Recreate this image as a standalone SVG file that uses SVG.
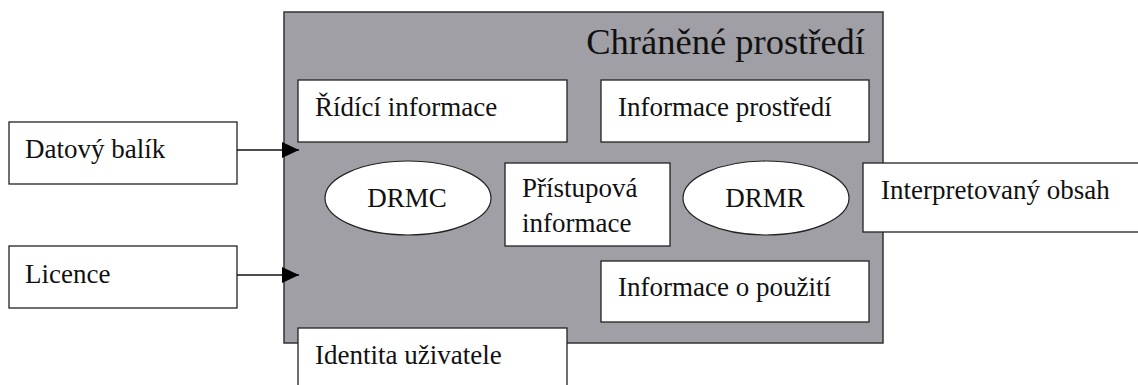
<svg xmlns="http://www.w3.org/2000/svg" width="1138" height="385" viewBox="0 0 1138 385">
  <defs>
    <marker id="arrow" markerWidth="17" markerHeight="16" refX="17" refY="8" orient="auto" markerUnits="userSpaceOnUse">
      <path d="M0,0 L17,8 L0,16 Z" fill="#000"/>
    </marker>
    <style>
      .box { fill: #fff; stroke: #222; stroke-width: 1.3; }
      .env { fill: #a09fa5; stroke: #333; stroke-width: 1.5; }
      .oval { fill: #fff; stroke: #222; stroke-width: 1.2; }
      .lbl { font-family: "Liberation Serif", "Times New Roman", "DejaVu Serif", serif; font-size: 27px; fill: #111; }
      .title { font-family: "Liberation Serif", "Times New Roman", "DejaVu Serif", serif; font-size: 36.5px; fill: #111; }
      .edge { stroke: #111; stroke-width: 1.3; fill: none; }
    </style>
  </defs>
  <rect width="1138" height="385" fill="#fff"/>

  <!-- protected environment container -->
  <g id="chranene-prostredi">
    <rect class="env" x="284" y="12" width="599" height="331"/>
    <text class="title" x="865" y="54" text-anchor="end">Chráněné prostředí</text>
  </g>

  <g id="ridici-informace">
    <rect class="box" x="298" y="80" width="269" height="62"/>
    <text class="lbl" x="315" y="116">Řídící informace</text>
  </g>

  <g id="informace-prostredi">
    <rect class="box" x="601" y="80" width="268" height="62"/>
    <text class="lbl" x="618" y="116">Informace prostředí</text>
  </g>

  <g id="drmc">
    <ellipse class="oval" cx="408" cy="198" rx="83" ry="37"/>
    <text class="lbl" x="407" y="207" text-anchor="middle">DRMC</text>
  </g>

  <g id="pristupova-informace">
    <rect class="box" x="505" y="163" width="165" height="83"/>
    <text class="lbl" x="522" y="197">Přístupová</text>
    <text class="lbl" x="522" y="232">informace</text>
  </g>

  <g id="drmr">
    <ellipse class="oval" cx="766" cy="198" rx="83" ry="37"/>
    <text class="lbl" x="765" y="207" text-anchor="middle">DRMR</text>
  </g>

  <g id="informace-o-pouziti">
    <rect class="box" x="601" y="261" width="268" height="61"/>
    <text class="lbl" x="618" y="296">Informace o použití</text>
  </g>

  <g id="interpretovany-obsah">
    <rect class="box" x="863" y="163" width="290" height="69"/>
    <text class="lbl" x="881" y="199">Interpretovaný obsah</text>
  </g>

  <g id="identita-uzivatele">
    <rect class="box" x="298" y="328" width="269" height="70"/>
    <text class="lbl" x="315" y="364">Identita uživatele</text>
  </g>

  <g id="datovy-balik">
    <rect class="box" x="9" y="122" width="228" height="62"/>
    <text class="lbl" x="25" y="158">Datový balík</text>
  </g>

  <g id="licence">
    <rect class="box" x="9" y="246" width="228" height="62"/>
    <text class="lbl" x="25" y="283">Licence</text>
  </g>

  <!-- inputs into the protected environment -->
  <g id="connectors">
    <line class="edge" x1="237" y1="150" x2="299" y2="150" marker-end="url(#arrow)"/>
    <line class="edge" x1="237" y1="275" x2="299" y2="275" marker-end="url(#arrow)"/>
  </g>
</svg>
